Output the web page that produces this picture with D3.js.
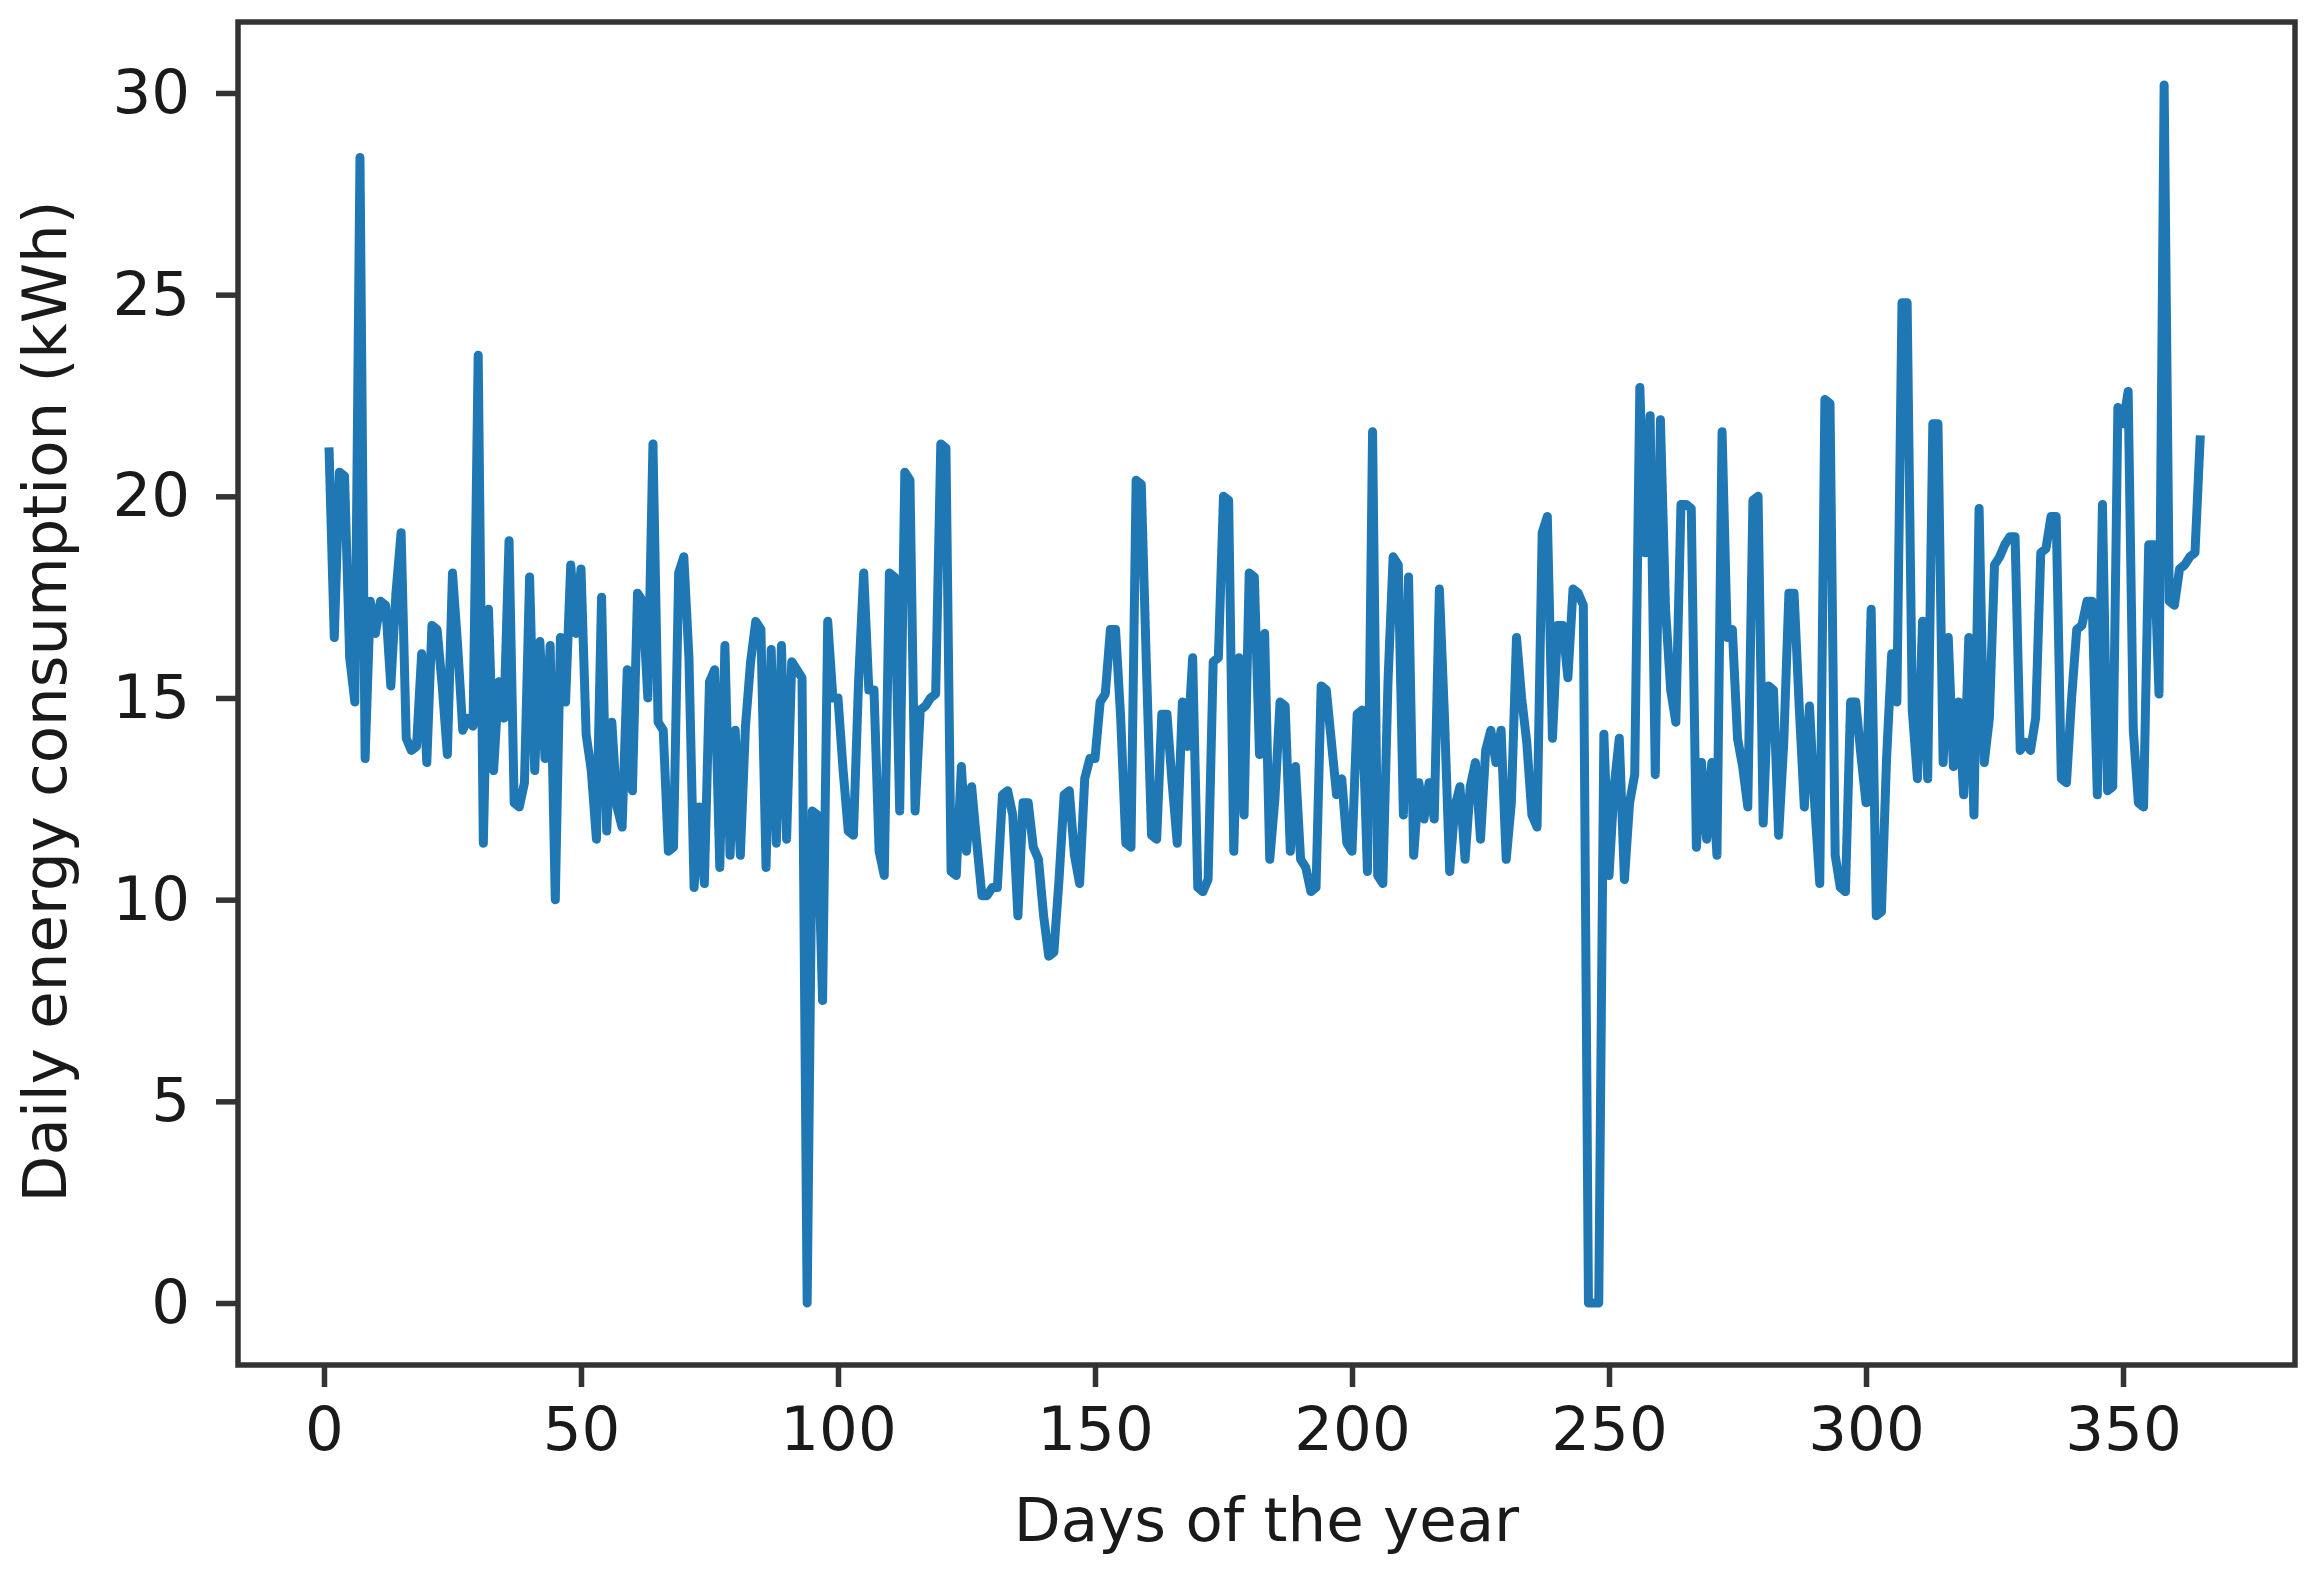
<!DOCTYPE html>
<html>
<head>
<meta charset="utf-8">
<script src="https://cdn.jsdelivr.net/npm/d3@7"></script>
<style>
  html, body { margin: 0; padding: 0; background: #ffffff; }
  svg { display: block; }
</style>
</head>
<body>
<svg id="chart" width="2323" height="1577"></svg>
<script>
// ---- data ----
const xLabel = "Days of the year";
const yLabel = "Daily energy consumption (kWh)";
const xTicks = [0, 50, 100, 150, 200, 250, 300, 350];
const yTicks = [0, 5, 10, 15, 20, 25, 30];
// daily consumption, days 1..365
const consumption = [
21.1,16.5,20.6,20.5,16.0,14.9,28.4,13.5,17.4,16.6,
17.4,17.3,15.3,17.6,19.1,14.0,13.7,13.8,16.1,13.4,
16.8,16.7,15.3,13.6,18.1,16.3,14.2,14.5,14.3,23.5,
11.4,17.2,13.2,15.4,14.5,18.9,12.4,12.3,12.9,18.0,
13.2,16.4,13.5,16.3,10.0,16.5,14.9,18.3,16.6,18.2,
14.1,13.2,11.5,17.5,11.7,14.4,12.3,11.8,15.7,12.7,
17.6,17.4,15.0,21.3,14.4,14.2,11.2,11.3,18.1,18.5,
16.0,10.3,12.3,10.4,15.4,15.7,10.8,16.3,11.1,14.2,
11.1,14.3,15.9,16.9,16.7,10.8,16.2,11.4,16.3,11.5,
15.9,15.7,15.5,0.0,12.2,12.1,7.5,16.9,15.0,15.0,
13.2,11.7,11.6,15.4,18.1,15.2,15.2,11.2,10.6,18.1,
18.0,12.2,20.6,20.4,12.2,14.7,14.8,15.0,15.1,21.3,
21.2,10.7,10.6,13.3,11.2,12.8,11.4,10.1,10.1,10.3,
10.3,12.6,12.7,12.1,9.6,12.4,12.4,11.3,11.0,9.6,
8.6,8.7,10.5,12.6,12.7,11.1,10.4,13.0,13.5,13.5,
14.9,15.1,16.7,16.7,14.5,11.4,11.3,20.4,20.3,15.8,
11.6,11.5,14.6,14.6,12.9,11.4,14.9,13.8,16.0,10.3,
10.2,10.5,15.9,16.0,20.0,19.9,11.2,16.0,12.1,18.1,
18.0,13.6,16.6,11.0,12.5,14.9,14.8,11.2,13.3,11.0,
10.8,10.2,10.3,15.3,15.2,13.9,12.6,13.0,11.4,11.2,
14.6,14.7,10.7,21.6,10.6,10.4,15.4,18.5,18.3,12.1,
18.0,11.1,12.9,12.0,12.9,12.0,17.7,14.5,10.7,12.3,
12.8,11.0,12.8,13.4,11.5,13.7,14.2,13.4,14.2,11.0,
12.4,16.5,15.0,13.9,12.1,11.8,19.1,19.5,14.0,16.8,
16.8,15.5,17.7,17.6,17.3,0.0,0.0,0.0,14.1,10.6,
12.8,14.0,10.5,12.4,13.1,22.7,18.6,22.0,13.1,21.9,
17.2,15.2,14.4,19.8,19.8,19.7,11.3,13.4,11.5,13.4,
11.1,21.6,16.5,16.7,14.0,13.3,12.3,19.9,20.0,11.9,
15.3,15.2,11.6,13.9,17.6,17.6,14.8,12.3,14.8,12.4,
10.4,22.4,22.3,11.1,10.3,10.2,14.9,14.9,13.6,12.4,
17.2,9.6,9.7,13.5,16.1,14.9,24.8,24.8,14.7,13.0,
16.9,13.0,21.8,21.8,13.4,16.5,13.3,14.9,12.6,16.5,
12.1,19.7,13.4,14.5,18.3,18.5,18.8,19.0,19.0,13.7,
13.9,13.7,14.5,18.6,18.7,19.5,19.5,13.0,12.9,15.0,
16.7,16.8,17.4,17.4,12.6,19.8,12.7,12.8,22.2,21.8,
22.6,14.2,12.4,12.3,18.8,18.8,15.1,30.2,17.4,17.3,
18.2,18.3,18.5,18.6,21.4
];
const days = consumption.map((_, i) => i + 1);

// ---- layout ----
const W = 2323, H = 1577;
const plot = { left: 238, right: 2295, top: 22, bottom: 1365 };
const frameColor = "#333333";
const textColor = "#1a1a1a";
const lineColor = "#1f77b4";
const fontFamily = "'DejaVu Sans', sans-serif";
const fontSize = 61;

const svg = d3.select("#chart");
svg.append("rect").attr("width", W).attr("height", H).attr("fill", "#ffffff");

const x = d3.scaleLinear().domain([-16.73, 383.46]).range([plot.left, plot.right]);
const y = d3.scaleLinear().domain([-1.537, 31.76]).range([plot.bottom, plot.top]);

// line
const line = d3.line().x((d, i) => x(days[i])).y(d => y(d));
svg.append("path")
  .datum(consumption)
  .attr("d", line)
  .attr("fill", "none")
  .attr("stroke", lineColor)
  .attr("stroke-width", 9)
  .attr("stroke-linejoin", "round")
  .attr("stroke-linecap", "square");

// axes
const xAxis = d3.axisBottom(x).tickValues(xTicks).tickSize(22).tickPadding(20).tickFormat(d3.format("d"));
const yAxis = d3.axisLeft(y).tickValues(yTicks).tickSize(22).tickPadding(26).tickFormat(d3.format("d"));

const gx = svg.append("g").attr("transform", `translate(0,${plot.bottom})`).call(xAxis);
const gy = svg.append("g").attr("transform", `translate(${plot.left},0)`).call(yAxis);

[gx, gy].forEach(g => {
  g.select(".domain").remove();
  g.selectAll(".tick line").attr("stroke", frameColor).attr("stroke-width", 5.5);
  g.selectAll(".tick text")
    .attr("fill", textColor)
    .style("font-family", fontFamily)
    .style("font-size", fontSize + "px");
});

// frame
svg.append("rect")
  .attr("x", plot.left).attr("y", plot.top)
  .attr("width", plot.right - plot.left).attr("height", plot.bottom - plot.top)
  .attr("fill", "none").attr("stroke", frameColor).attr("stroke-width", 5.5);

// axis labels
svg.append("text")
  .attr("x", (plot.left + plot.right) / 2)
  .attr("y", 1541)
  .attr("text-anchor", "middle")
  .attr("fill", textColor)
  .style("font-family", fontFamily)
  .style("font-size", fontSize + "px")
  .text(xLabel);

svg.append("text")
  .attr("transform", `translate(66,${(plot.top + plot.bottom) / 2 + 8}) rotate(-90)`)
  .attr("text-anchor", "middle")
  .attr("fill", textColor)
  .style("font-family", fontFamily)
  .style("font-size", fontSize + "px")
  .text(yLabel);
</script>
</body>
</html>
